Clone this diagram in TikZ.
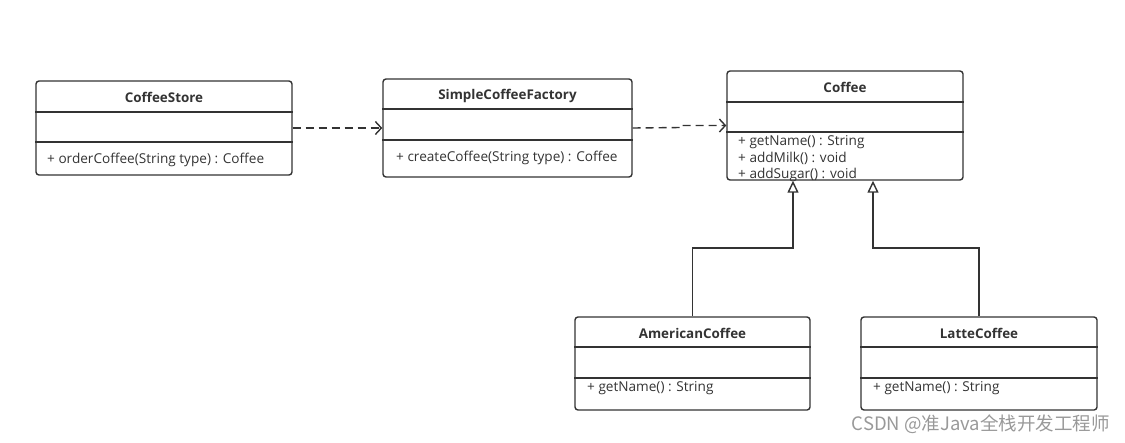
\documentclass[tikz,border=0pt]{standalone}
\usepackage{fontspec}
\setmainfont{Open Sans}
\newfontfamily\cjkfont{Noto Sans CJK SC}
\usetikzlibrary{arrows.meta}
\usetikzlibrary{calc}
\definecolor{umlgray}{HTML}{333333}
\definecolor{markgray}{HTML}{999999}
\begin{document}
\begin{tikzpicture}[x=1pt,y=-1pt,
	classbox/.style={draw=umlgray,line width=1.4pt,rounded corners=3pt,inner sep=0pt},
	classname/.style={text=umlgray,font=\fontsize{13.4}{15}\selectfont\bfseries,inner sep=0pt},
	member/.style={text=umlgray,font=\fontsize{13.6}{16.5}\selectfont,inner sep=0pt,anchor=west,align=left},
	sep/.style={draw=umlgray,line width=1.4pt},
	depend/.style={draw=umlgray,line width=1.4pt,dash pattern=on 8pt off 5pt,
		-{Straight Barb[length=6pt,width=13pt,line width=1.4pt]}},
	inherit/.style={draw=umlgray,line width=1.4pt,
		-{Triangle[open,length=12pt,width=11pt,line width=1.4pt]}}]
			\useasboundingbox (0,0) rectangle (1125,442);
			
			\node[classbox,minimum width=256pt,minimum height=94pt] (store) at (164,128){};
			\node[classname] (storename) at (164,97){CoffeeStore};
			\draw[sep] (store.west |- 0,112)--(store.east |- 0,112);
			\draw[sep] (store.west |- 0,142)--(store.east |- 0,142);
			\node[member] (storeop) at (47,160){+ orderCoffee(String type) : Coffee};
			
			\node[classbox,minimum width=249pt,minimum height=98pt] (factory) at (507.5,128){};
			\node[classname] (factoryname) at (507.5,96){SimpleCoffeeFactory};
			\draw[sep] (factory.west |- 0,109)--(factory.east |- 0,109);
			\draw[sep] (factory.west |- 0,140)--(factory.east |- 0,140);
			\node[member] (factoryop) at (396,158){+ createCoffee(String type) : Coffee};
			
			\node[classbox,minimum width=236pt,minimum height=109pt] (coffee) at (845,125.5){};
			\node[classname] (coffeename) at (845,87){Coffee};
			\draw[sep] (coffee.west |- 0,102)--(coffee.east |- 0,102);
			\draw[sep] (coffee.west |- 0,132)--(coffee.east |- 0,132);
			\node[member] (coffeeops) at (738,159){+ getName() : String\\+ addMilk() : void\\+ addSugar() : void};
			
			\node[classbox,minimum width=235pt,minimum height=93pt] (american) at (692.5,363.5){};
			\node[classname] (americanname) at (692.5,333){AmericanCoffee};
			\draw[sep] (american.west |- 0,347)--(american.east |- 0,347);
			\draw[sep] (american.west |- 0,378)--(american.east |- 0,378);
			\node[member] (americanop) at (587,388){+ getName() : String};
			
			\node[classbox,minimum width=236pt,minimum height=93pt] (latte) at (979,363.5){};
			\node[classname] (lattename) at (979,333){LatteCoffee};
			\draw[sep] (latte.west |- 0,347)--(latte.east |- 0,347);
			\draw[sep] (latte.west |- 0,378)--(latte.east |- 0,378);
			\node[member] (latteop) at (873,388){+ getName() : String};
			
			\draw[depend] (store.east)--(factory.west);
			\coordinate (bend) at (681,127.5);
			\draw[depend] (factory.east)--(bend)--(bend |- coffee.west)--(coffee.west);
			
			\coordinate (KA) at (793,248);
			\draw[inherit] (american.north) |- (KA)--(KA |- coffee.south);
			\coordinate (KL) at (873,248);
			\draw[inherit] (latte.north) |- (KL)--(KL |- coffee.south);
			
			\node[text=markgray,font=\fontsize{18.5}{20}\selectfont\cjkfont,anchor=east,inner sep=0pt] (mark) at (1110,424){CSDN @准Java全栈开发工程师};
		\end{tikzpicture}
\end{document}
